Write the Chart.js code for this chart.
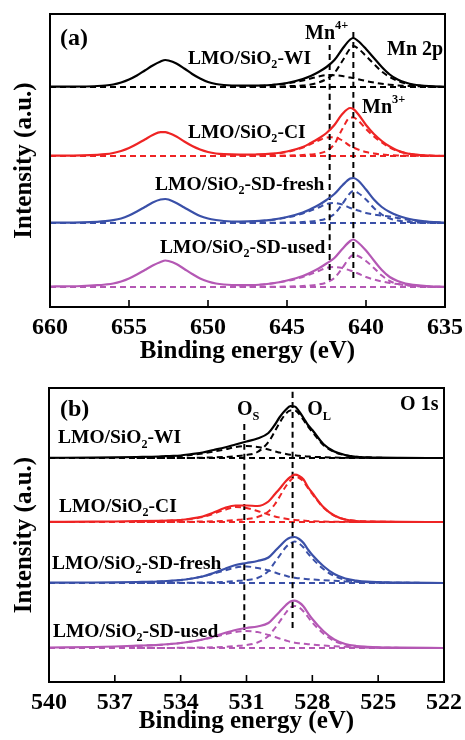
<!DOCTYPE html>
<html>
<head>
<meta charset="utf-8">
<script src="https://cdn.jsdelivr.net/npm/chart.js@4.4.1/dist/chart.umd.min.js"></script>
<style>
  html, body { margin: 0; padding: 0; background: #fff; }
  #wrap { position: relative; width: 465px; height: 740px; }
  canvas { position: absolute; left: 0; }
</style>
</head>
<body>
<div id="wrap">
  <canvas id="mnChart" width="465" height="370" style="top:0"></canvas>
  <canvas id="oChart" width="465" height="370" style="top:370px"></canvas>
</div>
<script>
const FONT = '"Liberation Serif", "Times New Roman", serif';
const colors = ['#000000', '#ee2424', '#3a50a8', '#b458b4'];

// ---- (a) Mn 2p : energies (eV) and heights above each trace's baseline
const energyA = [660, 659, 658, 657, 656.5, 656, 655.5, 655, 654.5, 654, 653.5, 653, 652.7, 652.5, 652, 651.5,
  651, 650.5, 650, 649.5, 649, 648, 647, 646, 645, 644, 643.5, 643, 642.5, 642, 641.5, 641, 640.8, 640.5,
  640, 639.5, 639, 638.5, 638, 637.5, 637, 636, 635];
const mnWI = [0.3, 0.3, 0.5, 1, 1.5, 2.5, 4.5, 7.5, 11.5, 16.5, 21.5, 25.5, 27, 26.5, 23.5, 18.5,
  13, 8.5, 5, 3, 2, 1.3, 1.3, 2, 4, 8, 11, 15, 20, 27, 38, 47.5, 49, 46, 38, 29, 20, 12.5, 7.5, 4.5, 2.5, 0.8, 0.2];
const mnCI = [0.3, 0.4, 0.6, 1.2, 1.8, 3, 5, 8, 12, 16.5, 21, 23.8, 23.8, 23, 19.5, 14.5,
  10, 6.5, 4, 2.5, 1.8, 1.3, 1.5, 2.3, 4.5, 9, 13, 17.5, 23, 31, 42, 48, 47, 42, 31, 22, 15, 9.5, 5.5, 3, 1.7, 0.5, 0.1];
const mnFresh = [0.3, 0.4, 0.6, 1.2, 1.8, 2.8, 4.5, 7.5, 11.5, 16, 20.5, 23.5, 24, 23.5, 20, 15.5,
  11, 7, 4.5, 3, 2, 1.4, 1.8, 3.2, 6, 10.5, 14, 18, 23, 29, 37.5, 44.5, 45, 42.5, 33.5, 23.5, 16, 11, 7.5, 5, 3.2, 1.2, 0.3];
const mnUsed = [0.5, 0.7, 1, 1.8, 2.5, 3.5, 5.5, 8.5, 12.5, 17, 21.5, 25, 26.5, 26, 23, 18,
  13, 8.5, 5.5, 3.5, 2.5, 1.8, 2, 3.5, 6.5, 11, 14.5, 18.5, 23.5, 29, 38, 46, 47.5, 44.5, 36.5, 26.5, 17, 10, 6, 3.5, 2.2, 0.7, 0.2];

const compEnergyA = [648, 647, 646, 645, 644, 643.5, 643, 642.5, 642, 641.5, 641, 640.8, 640.5, 640, 639.5, 639, 638.5, 638, 637, 636, 635];
const mn3WI = [0, 0.2, 0.4, 0.8, 1.5, 2.5, 4.5, 8, 14, 26, 38.5, 41, 38.5, 31, 23, 15.5, 10, 6, 2, 0.6, 0];
const mn4WI = [0.5, 1, 2, 3.5, 6.5, 8.5, 10.5, 12, 11.8, 11, 9.5, 9, 7.8, 6, 4.5, 3.2, 2.3, 1.6, 0.8, 0.3, 0];
const mn3CI = [0, 0.1, 0.2, 0.5, 1, 1.5, 2.5, 5, 12, 27, 38.5, 38.5, 35.5, 27, 19.5, 13.5, 8.5, 5, 1.5, 0.4, 0];
const mn4CI = [0.3, 0.8, 1.8, 4, 8.5, 12, 15.5, 18.5, 18.8, 15.5, 10, 8.5, 6.5, 4, 2.5, 1.5, 1, 0.6, 0.2, 0.1, 0];
const mn3Fresh = [0, 0.1, 0.2, 0.5, 1, 1.5, 2.5, 4.5, 9, 19, 30, 32, 30, 23.5, 15, 8.5, 4.5, 2.5, 0.8, 0.2, 0];
const mn4Fresh = [0.8, 1.6, 3, 5.5, 9.5, 12.5, 15.5, 19, 20, 18.5, 15, 14, 12.5, 10, 8.5, 7.5, 6.5, 5, 2.5, 1, 0.3];
const mn3Used = [0, 0.1, 0.2, 0.5, 1, 1.5, 2.5, 4.5, 9, 19, 30, 32, 31, 26, 19, 11.5, 6, 3, 1, 0.3, 0];
const mn4Used = [1, 2, 3.5, 6, 10, 13, 16, 19, 20, 19, 16.5, 15.5, 13.5, 10, 7.5, 5.5, 4, 3, 1.5, 0.5, 0.2];

const offsetA = [220, 151, 84, 20];          // stacking offsets of the four traces
const guideA = [642.3, 640.8];               // Mn4+ and Mn3+ positions
const guideSpanA = [[27, 262], [29, 275]];

// ---- (b) O 1s
const energyB = [540, 538, 537, 536, 535, 534.5, 534, 533.5, 533, 532.5, 532, 531.5, 531, 530.5, 530, 529.7,
  529.5, 529.2, 529, 528.8, 528.6, 528.4, 528.2, 528, 527.5, 527, 526.5, 526, 525.5, 525, 524, 522];
const oWI = [0.2, 0.4, 0.6, 1, 1.5, 2, 2.5, 4, 5.5, 8, 10.5, 13.5, 16.5, 19.5, 25, 33.5,
  40.5, 48.5, 51.8, 51.5, 46.5, 40, 33, 28, 14, 6.5, 3, 1.2, 0.6, 0.3, 0.1, 0];
const oCI = [0.2, 0.3, 0.5, 0.8, 1.2, 1.5, 2, 3.5, 5.5, 9.5, 14, 16.5, 16.5, 16, 20.5, 28,
  33, 41, 45, 47.3, 46, 42.5, 35, 29, 15, 6.5, 2.5, 1, 0.5, 0.3, 0.1, 0];
const oFresh = [0.3, 0.5, 0.7, 1, 1.5, 2.2, 3, 4.5, 6.5, 10, 14, 18, 20, 22, 25.5, 32,
  36.5, 43, 45.5, 46, 44, 40, 33.5, 28, 17, 9, 4.5, 2.5, 1.3, 0.8, 0.3, 0];
const oUsed = [0.5, 1, 1.5, 2.3, 3.2, 4, 5, 6.5, 8.5, 11.5, 15, 18, 20, 21.5, 25, 31.5,
  36, 43, 46.5, 47.3, 45.5, 41.5, 35, 29, 17, 8.5, 4, 2, 1.2, 0.7, 0.3, 0];

const compEnergyB = [536, 535, 534, 533, 532, 531.5, 531, 530.5, 530, 529.7, 529.5, 529.2, 529, 528.8, 528.6,
  528.4, 528.2, 528, 527.5, 527, 526.5, 526, 525, 524, 522];
const oLWI = [0, 0, 0, 0.3, 1, 1.8, 3, 6, 16, 27, 35, 44.5, 47.5, 47.5, 44, 38, 31.5, 26, 13, 6, 2.8, 1.2, 0.3, 0, 0];
const oSWI = [0.3, 1, 2, 4.5, 8.5, 11, 12, 11, 8.5, 6.5, 5.5, 4, 3.2, 2.7, 2.2, 1.8, 1.5, 1.2, 0.8, 0.5, 0.3, 0.2, 0.1, 0, 0];
const oLCI = [0, 0, 0.2, 0.5, 1.2, 2, 3, 5, 10.5, 18, 25, 36, 41.5, 45, 44, 40.5, 34, 28, 14.5, 6.3, 2.5, 1, 0.3, 0.1, 0];
const oSCI = [0.5, 1, 2, 5, 12, 15, 14, 11, 7.5, 5.5, 4.5, 3.2, 2.5, 2, 1.7, 1.4, 1.1, 0.9, 0.5, 0.3, 0.2, 0.1, 0, 0, 0];
const oLFresh = [0, 0, 0.2, 0.5, 1.2, 2, 3, 5, 12, 21, 27, 36, 39.5, 41.5, 39.5, 35.5, 29.5, 24.5, 14, 7, 3.3, 1.6, 0.5, 0.2, 0];
const oSFresh = [0.8, 1.5, 3, 6.5, 12.5, 15.5, 16.5, 15, 12.5, 10.5, 9, 7.2, 6, 5.2, 4.7, 4.2, 3.8, 3.5, 2.8, 2.2, 1.6, 1.2, 0.6, 0.3, 0];
const oLUsed = [0, 0, 0.2, 0.5, 1.2, 2, 3, 5.5, 12, 20, 26, 35.5, 40.5, 42, 40.5, 36.5, 31, 25.5, 14.5, 7, 3.2, 1.5, 0.4, 0.1, 0];
const oSUsed = [2, 3, 5, 8.5, 13.5, 16, 17, 16, 13, 11, 9.5, 7.5, 6.2, 5.3, 4.7, 4.2, 3.8, 3.4, 2.6, 1.8, 1.2, 0.8, 0.3, 0.1, 0];

const offsetB = [224, 160, 99, 34];
const guideB = [531.1, 528.9];               // O_S and O_L positions
const guideSpanB = [[42, 259], [54, 294]];

// ---- text annotations (x in eV, y in axis units)
const labelsA = [
  { text: '(a)', x: 659.37, y: 268, size: 24 },
  { text: 'Mn^{4+}', x: 643.86, y: 273, size: 20 },
  { text: 'Mn 2p', x: 638.67, y: 257, size: 20 },
  { text: 'Mn^{3+}', x: 640.25, y: 199, size: 20 },
  { text: 'LMO/SiO_{2}-WI', x: 651.27, y: 248, size: 19.5 },
  { text: 'LMO/SiO_{2}-CI', x: 651.27, y: 174.5, size: 19.5 },
  { text: 'LMO/SiO_{2}-SD-fresh', x: 653.35, y: 122.5, size: 19.5 },
  { text: 'LMO/SiO_{2}-SD-used', x: 653.04, y: 59, size: 19.5 }
];
const labelsB = [
  { text: '(b)', x: 539.5, y: 272.7, size: 24 },
  { text: 'O_{S}', x: 531.43, y: 272, size: 20 },
  { text: 'O_{L}', x: 528.23, y: 272, size: 20 },
  { text: 'O 1s', x: 524.0, y: 277, size: 20 },
  { text: 'LMO/SiO_{2}-WI', x: 539.59, y: 243.7, size: 19.5 },
  { text: 'LMO/SiO_{2}-CI', x: 539.54, y: 175.3, size: 19.5 },
  { text: 'LMO/SiO_{2}-SD-fresh', x: 539.86, y: 118, size: 19.5 },
  { text: 'LMO/SiO_{2}-SD-used', x: 539.82, y: 50.3, size: 19.5 }
];

function pts(xs, ys, off) {
  return xs.map((x, i) => ({ x: x, y: ys[i] + off }));
}

function buildDatasets(energy, totals, compEnergy, comps, offsets, range, guides, spans) {
  const ds = [];
  totals.forEach((t, i) => ds.push({
    data: pts(energy, t, offsets[i]), borderColor: colors[i], borderWidth: 2.2, order: 0
  }));
  guides.forEach((g, i) => ds.push({
    data: [{ x: g, y: spans[i][0] }, { x: g, y: spans[i][1] }],
    borderColor: '#000', borderWidth: 2, borderDash: [6, 4], order: 0
  }));
  comps.forEach((pair, i) => pair.forEach(c => ds.push({
    data: pts(compEnergy, c, offsets[i]), borderColor: colors[i], borderWidth: 2, borderDash: [6, 4], order: 1
  })));
  offsets.forEach((o, i) => ds.push({
    data: [{ x: range[0], y: o }, { x: range[1], y: o }],
    borderColor: colors[i], borderWidth: 2, borderDash: [6, 4], order: 1
  }));
  return ds;
}

// draws text with _{sub} and ^{sup} parts
function drawRich(ctx, text, x, y, size) {
  const parts = text.split(/(_\{[^}]*\}|\^\{[^}]*\})/).filter(Boolean);
  let cx = x;
  parts.forEach(p => {
    let s = size, dy = 0, t = p;
    if (p.startsWith('_{')) { t = p.slice(2, -1); s = size * 0.62; dy = size * 0.32; }
    else if (p.startsWith('^{')) { t = p.slice(2, -1); s = size * 0.62; dy = -size * 0.42; }
    ctx.font = 'bold ' + s + 'px ' + FONT;
    ctx.fillText(t, cx, y + dy);
    cx += ctx.measureText(t).width;
  });
}

function framePlugin(labels) {
  return {
    id: 'frame',
    afterDatasetsDraw(chart) {
      const { ctx, chartArea: a, scales: { x, y } } = chart;
      ctx.save();
      ctx.strokeStyle = '#000';
      ctx.lineWidth = 1.6;
      x.ticks.forEach(t => {
        const px = x.getPixelForValue(t.value);
        ctx.beginPath();
        ctx.moveTo(px, a.bottom);
        ctx.lineTo(px, a.bottom - 7);
        ctx.stroke();
      });
      ctx.lineWidth = 2;
      ctx.strokeRect(a.left, a.top, a.right - a.left, a.bottom - a.top);
      ctx.fillStyle = '#000';
      ctx.textBaseline = 'middle';
      ctx.textAlign = 'left';
      labels.forEach(l => drawRich(ctx, l.text, x.getPixelForValue(l.x), y.getPixelForValue(l.y), l.size));
      ctx.restore();
    }
  };
}

function makeChart(id, datasets, xr, step, yMax, area, labels) {
  const boldFont = size => ({ family: FONT, size: size, weight: 'bold', lineHeight: 1 });
  return new Chart(document.getElementById(id), {
    type: 'line',
    data: { datasets: datasets },
    options: {
      responsive: false,
      animation: false,
      devicePixelRatio: 1,
      layout: { padding: { top: area.top, right: 465 - area.right, bottom: 0, left: 0 } },
      elements: {
        point: { radius: 0 },
        line: { cubicInterpolationMode: 'monotone', fill: false }
      },
      plugins: { legend: { display: false }, tooltip: { enabled: false } },
      scales: {
        x: {
          type: 'linear', reverse: true, min: xr[1], max: xr[0],
          grid: { display: false }, border: { display: false },
          ticks: { stepSize: step, color: '#000', padding: 1, font: boldFont(24), maxRotation: 0, autoSkip: false },
          title: { display: true, text: 'Binding energy (eV)', color: '#000', font: boldFont(25), padding: { top: 0, bottom: 5.5 } },
          afterFit: s => { s.height = 370 - area.bottom; }
        },
        y: {
          type: 'linear', min: 0, max: yMax,
          grid: { display: false }, border: { display: false },
          ticks: { display: false },
          title: { display: true, text: 'Intensity (a.u.)', color: '#000', font: boldFont(25), padding: { top: 12.5, bottom: 0 } },
          afterFit: s => { s.width = area.left; }
        }
      }
    },
    plugins: [framePlugin(labels)]
  });
}

makeChart('mnChart',
  buildDatasets(energyA, [mnWI, mnCI, mnFresh, mnUsed], compEnergyA,
    [[mn3WI, mn4WI], [mn3CI, mn4CI], [mn3Fresh, mn4Fresh], [mn3Used, mn4Used]],
    offsetA, [660, 635], guideA, guideSpanA),
  [660, 635], 5, 293, { left: 50, right: 445, top: 14, bottom: 307 }, labelsA);

makeChart('oChart',
  buildDatasets(energyB, [oWI, oCI, oFresh, oUsed], compEnergyB,
    [[oLWI, oSWI], [oLCI, oSCI], [oLFresh, oSFresh], [oLUsed, oSUsed]],
    offsetB, [540, 522], guideB, guideSpanB),
  [540, 522], 3, 294, { left: 49, right: 444, top: 18, bottom: 312 }, labelsB);
</script>
</body>
</html>
